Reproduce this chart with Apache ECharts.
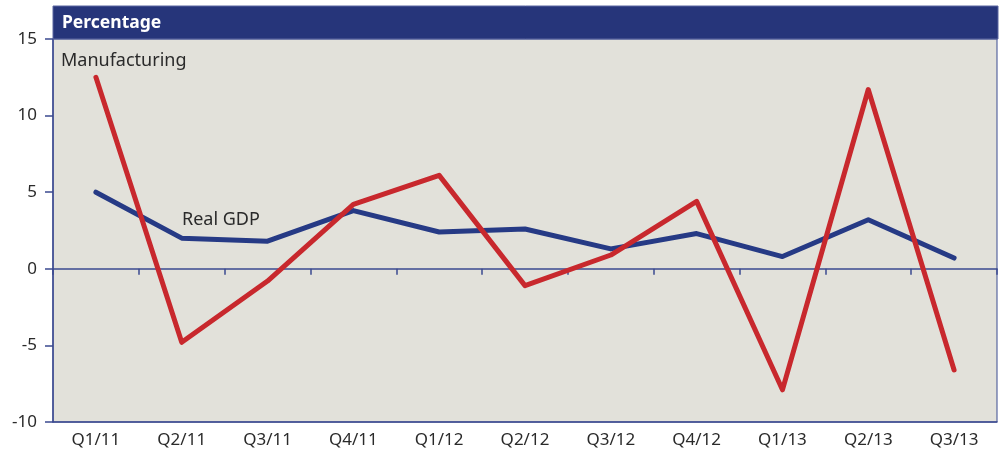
<!DOCTYPE html>
<html>
<head>
<meta charset="utf-8">
<script src="https://cdn.jsdelivr.net/npm/echarts@6/dist/echarts.min.js"></script>
<style>
  html, body { margin: 0; padding: 0; background: #fff; }
  #chart { width: 1000px; height: 451px; }
</style>
</head>
<body>
<div id="chart"></div>
<script>
var quarters = ['Q1/11', 'Q2/11', 'Q3/11', 'Q4/11', 'Q1/12', 'Q2/12', 'Q3/12', 'Q4/12', 'Q1/13', 'Q2/13', 'Q3/13'];
var realGdp = [5.0, 2.0, 1.8, 3.8, 2.4, 2.6, 1.3, 2.3, 0.8, 3.2, 0.7];
var manufacturing = [12.5, -4.8, -0.8, 4.2, 6.1, -1.1, 0.9, 4.4, -7.9, 11.7, -6.6];
var yTicks = [-10, -5, 0, 5, 10, 15];

var axisBlue = '#3b4a90';
var font = 'Noto Sans';

var option = {
    animation: false,
    backgroundColor: '#ffffff',
    grid: {
        left: 53, right: 3, top: 39, bottom: 29,
        show: true,
        backgroundColor: '#e2e1da',
        borderColor: axisBlue,
        borderWidth: 1
    },
    graphic: [
        {
            type: 'rect',
            shape: { x: 53, y: 6, width: 945, height: 33 },
            style: { fill: '#26357a', stroke: '#5a67a0', lineWidth: 1 },
            z: 10
        },
        {
            type: 'text',
            left: 62, top: 14,
            style: { text: 'Percentage', fill: '#ffffff', font: 'bold 17.5px "Noto Sans"' },
            z: 11
        },
        {
            type: 'text',
            left: 61, top: 52,
            style: { text: 'Manufacturing', fill: '#2a2a2a', font: '18px "Noto Sans"' },
            z: 11
        },
        {
            type: 'text',
            left: 182, top: 211,
            style: { text: 'Real GDP', fill: '#2a2a2a', font: '18px "Noto Sans"' },
            z: 11
        }
    ],
    xAxis: [
        {
            type: 'category',
            data: quarters,
            position: 'bottom',
            boundaryGap: true,
            axisLine: { onZero: false, lineStyle: { color: axisBlue, width: 1.5 } },
            axisTick: { show: false },
            axisLabel: { color: '#2a2a2a', fontSize: 17, fontFamily: font, margin: 10 },
            splitLine: { show: false }
        },
        {
            type: 'category',
            data: quarters,
            position: 'top',
            boundaryGap: true,
            axisLine: { onZero: true, lineStyle: { color: axisBlue, width: 1.5 } },
            axisTick: { show: true, inside: true, length: 6, lineStyle: { color: axisBlue, width: 1.5 } },
            axisLabel: { show: false },
            splitLine: { show: false }
        }
    ],
    yAxis: {
        type: 'value',
        min: yTicks[0],
        max: yTicks[yTicks.length - 1],
        interval: 5,
        axisLine: { show: true, lineStyle: { color: axisBlue, width: 1.5 } },
        axisTick: { show: true, length: 8, lineStyle: { color: axisBlue, width: 1.5 } },
        axisLabel: { color: '#2a2a2a', fontSize: 17, fontFamily: font, margin: 16 },
        splitLine: { show: false }
    },
    series: [
        {
            name: 'Real GDP',
            type: 'line',
            data: realGdp,
            symbol: 'none',
            lineStyle: { color: '#263a85', width: 5, cap: 'round', join: 'round' },
            z: 3
        },
        {
            name: 'Manufacturing',
            type: 'line',
            data: manufacturing,
            symbol: 'none',
            lineStyle: { color: '#c8282d', width: 5, cap: 'round', join: 'round' },
            z: 4
        }
    ]
};

var myChart = echarts.init(document.getElementById('chart'));
myChart.setOption(option);
</script>
</body>
</html>
